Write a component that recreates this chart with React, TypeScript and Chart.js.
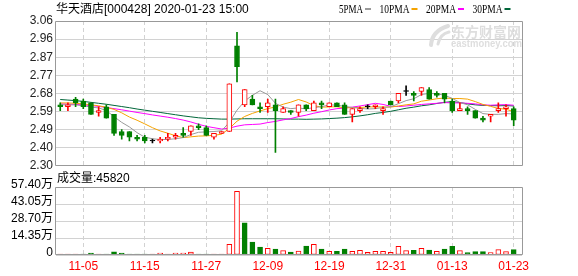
import React, { useEffect, useRef } from 'react';
import { Chart, registerables } from 'chart.js';

Chart.register(...registerables);

// ---------------- data ----------------
const stockTitle = '华天酒店[000428]';
const timeStamp = '2020-01-23 15:00';
const volumeLabel = '成交量';

const dates = [
  '10-31', '11-01', '11-04', '11-05', '11-06', '11-07', '11-08', '11-11', '11-12', '11-13',
  '11-14', '11-15', '11-18', '11-19', '11-20', '11-21', '11-22', '11-25', '11-26', '11-27',
  '11-28', '11-29', '12-02', '12-03', '12-04', '12-05', '12-06', '12-09', '12-10', '12-11',
  '12-12', '12-13', '12-16', '12-17', '12-18', '12-19', '12-20', '12-23', '12-24', '12-25',
  '12-26', '12-27', '12-30', '12-31', '01-02', '01-03', '01-06', '01-07', '01-08', '01-09',
  '01-10', '01-13', '01-14', '01-15', '01-16', '01-17', '01-20', '01-21', '01-22', '01-23',
];
const axisDates = ['11-05', '11-15', '11-27', '12-09', '12-19', '12-31', '01-13', '01-23'];

const opens = [
  2.62, 2.61, 2.65, 2.64, 2.63, 2.58, 2.61, 2.57, 2.48, 2.48,
  2.45, 2.45, 2.43, 2.43, 2.44, 2.45, 2.47, 2.48, 2.51, 2.50,
  2.45, 2.47, 2.48, 2.93, 2.62, 2.65, 2.61, 2.61, 2.62, 2.58,
  2.59, 2.58, 2.62, 2.59, 2.63, 2.61, 2.63, 2.62, 2.57, 2.59,
  2.61, 2.61, 2.59, 2.64, 2.64, 2.69, 2.68, 2.69, 2.70, 2.68,
  2.68, 2.64, 2.59, 2.60, 2.59, 2.55, 2.56, 2.59, 2.60, 2.60,
];
const highs = [
  2.63, 2.63, 2.66, 2.65, 2.63, 2.61, 2.62, 2.57, 2.49, 2.48,
  2.46, 2.46, 2.44, 2.45, 2.47, 2.47, 2.50, 2.51, 2.52, 2.51,
  2.47, 2.48, 2.73, 3.00, 2.70, 2.67, 2.63, 2.65, 2.65, 2.61,
  2.59, 2.62, 2.62, 2.64, 2.64, 2.63, 2.63, 2.63, 2.60, 2.61,
  2.62, 2.62, 2.61, 2.64, 2.68, 2.72, 2.69, 2.71, 2.71, 2.69,
  2.68, 2.65, 2.63, 2.61, 2.59, 2.56, 2.57, 2.63, 2.62, 2.61,
];
const lows = [
  2.59, 2.59, 2.61, 2.60, 2.57, 2.56, 2.55, 2.46, 2.44, 2.43,
  2.43, 2.42, 2.42, 2.42, 2.43, 2.44, 2.45, 2.46, 2.49, 2.46,
  2.44, 2.47, 2.48, 2.74, 2.61, 2.62, 2.58, 2.58, 2.37, 2.58,
  2.57, 2.56, 2.59, 2.59, 2.60, 2.61, 2.61, 2.57, 2.53, 2.58,
  2.60, 2.60, 2.57, 2.62, 2.63, 2.67, 2.64, 2.67, 2.65, 2.66,
  2.63, 2.58, 2.59, 2.57, 2.55, 2.53, 2.53, 2.58, 2.56, 2.51,
];
const closes = [
  2.61, 2.62, 2.63, 2.61, 2.57, 2.59, 2.55, 2.47, 2.46, 2.45,
  2.44, 2.43, 2.43, 2.44, 2.45, 2.46, 2.46, 2.51, 2.50, 2.46,
  2.47, 2.48, 2.73, 2.82, 2.70, 2.62, 2.60, 2.63, 2.59, 2.60,
  2.58, 2.62, 2.60, 2.63, 2.62, 2.63, 2.61, 2.57, 2.60, 2.60,
  2.61, 2.62, 2.60, 2.62, 2.68, 2.69, 2.67, 2.71, 2.65, 2.67,
  2.65, 2.59, 2.60, 2.59, 2.55, 2.54, 2.57, 2.60, 2.61, 2.54,
];
const volumes = [
  8000, 8000, 8000, 8000, 16000, 8000, 8000, 27000, 16000, 8000,
  8000, 8000, 8000, 16000, 8000, 16000, 16000, 25000, 8000, 8000,
  7000, 7000, 90000, 538000, 271000, 110000, 66000, 56000, 50000, 37000,
  25000, 33600, 75600, 89600, 50400, 30800, 30800, 50400, 30800, 39200,
  22400, 30800, 30800, 22400, 72800, 36400, 39200, 56000, 42000, 30800,
  50400, 72800, 36400, 19600, 28000, 28000, 19600, 44800, 28000, 45820,
];
// 1 = rising day (red volume bar), 0 = falling day (green volume bar)
const volumeUp = [
  1, 1, 1, 0, 0, 1, 0, 0, 0, 0,
  0, 0, 1, 1, 1, 1, 1, 1, 0, 0,
  1, 1, 1, 1, 0, 0, 0, 1, 0, 1,
  0, 1, 0, 1, 0, 1, 0, 0, 1, 1,
  1, 1, 1, 1, 1, 1, 0, 1, 0, 1,
  0, 0, 1, 0, 0, 0, 1, 1, 1, 0,
];

const ma5 = [
  2.620, 2.620, 2.620, 2.615, 2.608, 2.604, 2.590, 2.558, 2.528, 2.504,
  2.474, 2.450, 2.442, 2.438, 2.438, 2.442, 2.448, 2.464, 2.476, 2.478,
  2.480, 2.484, 2.528, 2.592, 2.640, 2.670, 2.694, 2.674, 2.628, 2.608,
  2.600, 2.604, 2.598, 2.606, 2.610, 2.620, 2.618, 2.612, 2.606, 2.602,
  2.598, 2.600, 2.606, 2.610, 2.626, 2.642, 2.652, 2.674, 2.680, 2.678,
  2.670, 2.654, 2.632, 2.620, 2.596, 2.574, 2.570, 2.570, 2.574, 2.572,
];
const ma10 = [
  2.630, 2.630, 2.628, 2.625, 2.620, 2.615, 2.607, 2.596, 2.578, 2.556,
  2.539, 2.520, 2.500, 2.483, 2.471, 2.458, 2.448, 2.452, 2.456, 2.457,
  2.460, 2.466, 2.496, 2.534, 2.559, 2.575, 2.588, 2.600, 2.609, 2.623,
  2.634, 2.648, 2.635, 2.616, 2.608, 2.609, 2.610, 2.604, 2.606, 2.606,
  2.609, 2.609, 2.609, 2.608, 2.614, 2.620, 2.625, 2.639, 2.645, 2.652,
  2.656, 2.653, 2.653, 2.650, 2.637, 2.622, 2.612, 2.601, 2.597, 2.584,
];
const ma20 = [
  2.625, 2.624, 2.622, 2.620, 2.616, 2.612, 2.606, 2.600, 2.594, 2.587,
  2.580, 2.574, 2.567, 2.561, 2.555, 2.548, 2.540, 2.530, 2.518, 2.507,
  2.500, 2.493, 2.498, 2.508, 2.515, 2.517, 2.519, 2.527, 2.533, 2.541,
  2.548, 2.558, 2.566, 2.576, 2.584, 2.593, 2.600, 2.603, 2.608, 2.614,
  2.621, 2.628, 2.622, 2.612, 2.611, 2.614, 2.618, 2.622, 2.625, 2.628,
  2.632, 2.630, 2.630, 2.628, 2.625, 2.620, 2.618, 2.620, 2.621, 2.618,
];
const ma30 = [
  2.648, 2.645, 2.642, 2.638, 2.633, 2.628, 2.623, 2.617, 2.611, 2.605,
  2.598, 2.592, 2.586, 2.580, 2.574, 2.568, 2.562, 2.557, 2.552, 2.549,
  2.547, 2.545, 2.545, 2.546, 2.547, 2.547, 2.547, 2.547, 2.547, 2.546,
  2.545, 2.545, 2.544, 2.545, 2.546, 2.548, 2.550, 2.553, 2.557, 2.562,
  2.568, 2.575, 2.580, 2.586, 2.594, 2.602, 2.608, 2.615, 2.620, 2.627,
  2.633, 2.637, 2.632, 2.625, 2.620, 2.617, 2.616, 2.615, 2.616, 2.614,
];
const maNames = ['5PMA', '10PMA', '20PMA', '30PMA'];

const priceTicks = [2.30, 2.395, 2.49, 2.585, 2.68, 2.775, 2.87, 2.965, 3.06];
const priceTickLabels = ['2.30', '2.40', '2.49', '2.59', '2.68', '2.77', '2.87', '2.96', '3.06'];
const volumeTicks = [0, 143500, 287000, 430500, 574000];
const volumeTickLabels = ['0', '14.35万', '28.70万', '43.05万', '57.40万'];

// ---------------- style ----------------
const SANS = '"Liberation Sans", "Noto Sans CJK SC", sans-serif';
const SERIF = '"Liberation Serif", "Noto Sans CJK SC", serif';
const RED = '#ff0000';
const GREEN = '#008000';
const GRID = '#d2d2d2';
const FRAME = '#999999';
const maColors = ['#9a9a9a', '#f5a300', '#ff00ff', '#00663a'];
const X_MIN = -0.55;
const X_MAX = 60.08;
const PAD_RIGHT = 56;
const AXIS_W = 56;

const kind = opens.map((o, i) => (closes[i] > o ? 'up' : closes[i] < o ? 'down' : 'flat'));
const strokeOf = (k: string) => (k === 'up' ? RED : k === 'down' ? GREEN : '#000000');
const fillOf = (k: string) => (k === 'up' ? '#ffffff' : k === 'down' ? GREEN : '#000000');
const axisTickIndex = axisDates.map((d) => dates.indexOf(d));

const framePlugin = {
  id: 'frame',
  afterDatasetsDraw(chart: any) {
    const { ctx, chartArea } = chart;
    const { left, top, right, bottom } = chartArea;
    ctx.save();
    ctx.strokeStyle = FRAME;
    ctx.lineWidth = 1;
    ctx.beginPath();
    ctx.rect(Math.round(left) - 0.5, Math.round(top) + 0.5, Math.round(right - left) + 1, Math.round(bottom - top) - 1);
    ctx.stroke();
    ctx.restore();
  },
};

const headerPlugin = {
  id: 'header',
  beforeDatasetsDraw(chart: any) {
    const ctx = chart.ctx;
    ctx.save();
    // watermark
    ctx.fillStyle = '#dedede';
    ctx.strokeStyle = '#dedede';
    ctx.lineCap = 'round';
    ctx.lineWidth = 4;
    ctx.beginPath();
    ctx.moveTo(431, 45);
    ctx.quadraticCurveTo(432, 31, 448, 26);
    ctx.stroke();
    ctx.lineWidth = 3;
    ctx.beginPath();
    ctx.moveTo(438, 44);
    ctx.quadraticCurveTo(440, 34, 449, 32);
    ctx.stroke();
    ctx.font = `bold 14px "Noto Sans CJK SC", sans-serif`;
    ctx.textBaseline = 'alphabetic';
    ctx.fillText('东方财富网', 451, 37, 71);
    ctx.font = `bold 10px ${SANS}`;
    ctx.fillText('eastmoney.com', 451, 47, 71);
    ctx.restore();
  },
  afterDraw(chart: any) {
    const ctx = chart.ctx;
    ctx.save();
    ctx.textBaseline = 'alphabetic';
    ctx.fillStyle = '#000';
    ctx.font = `12px ${SANS}`;
    ctx.fillText(`${stockTitle} ${timeStamp}`, 56, 13);
    ctx.font = `13px ${SERIF}`;
    let x = 339;
    maNames.forEach((name, k) => {
      const w = name.length * 6;
      ctx.fillStyle = '#000';
      ctx.fillText(name, x, 13, w);
      x += w + 2;
      ctx.fillStyle = maColors[k];
      ctx.fillRect(x, 8, 6, 2);
      x += 6 + 8.5;
    });
    ctx.restore();
  },
};

const volumeHeaderPlugin = {
  id: 'volHeader',
  afterDraw(chart: any) {
    const ctx = chart.ctx;
    ctx.save();
    ctx.fillStyle = '#000';
    ctx.font = `12px ${SANS}`;
    ctx.textBaseline = 'alphabetic';
    ctx.fillText(`${volumeLabel}:${volumes[volumes.length - 1]}`, 57, 14);
    ctx.restore();
  },
};

function xScale(showLabels: boolean) {
  return {
    type: 'linear',
    min: X_MIN,
    max: X_MAX,
    offset: false,
    afterBuildTicks: (axis: any) => {
      axis.ticks = axisTickIndex.map((v) => ({ value: v }));
    },
    ticks: {
      display: showLabels,
      autoSkip: false,
      maxRotation: 0,
      padding: 4,
      color: RED,
      font: { family: SANS, size: 12 },
      callback: (_v: any, i: number) => axisDates[i],
    },
    grid: { color: GRID, drawTicks: false, offset: false },
    border: { display: false, dash: [4, 3] },
    afterFit: (s: any) => {
      s.height = showLabels ? 21 : 0;
    },
  };
}

export default function App() {
  const priceRef = useRef<HTMLCanvasElement>(null);
  const volRef = useRef<HTMLCanvasElement>(null);

  useEffect(() => {
    const maSeries = [ma5, ma10, ma20, ma30];
    const priceChart = new Chart(priceRef.current as HTMLCanvasElement, {
      type: 'bar',
      data: {
        datasets: [
          ...maSeries.map((s, k) => ({
            type: 'line' as const,
            label: maNames[k],
            data: s.map((v, i) => ({ x: i, y: v })),
            borderColor: maColors[k],
            borderWidth: 1,
            pointRadius: 0,
            tension: 0,
            order: 3,
          })),
          {
            type: 'bar' as const,
            label: 'wick',
            data: dates.map((_d, i) => ({ x: i, y: [lows[i], highs[i]] })),
            backgroundColor: kind.map(strokeOf),
            barThickness: 1,
            grouped: false,
            order: 2,
          },
          {
            type: 'bar' as const,
            label: 'body',
            data: dates.map((_d, i) => ({ x: i, y: [Math.min(opens[i], closes[i]), Math.max(opens[i], closes[i])] })),
            backgroundColor: kind.map(fillOf),
            borderColor: kind.map(strokeOf),
            borderWidth: 1,
            borderSkipped: false,
            barThickness: 5,
            minBarLength: 1,
            grouped: false,
            order: 1,
          },
        ] as any,
      },
      options: {
        responsive: false,
        animation: false,
        events: [],
        layout: { padding: { left: 0, right: PAD_RIGHT, top: 21, bottom: 10 } },
        plugins: { legend: { display: false }, tooltip: { enabled: false } },
        scales: {
          x: xScale(false) as any,
          y: {
            type: 'linear',
            min: priceTicks[0],
            max: priceTicks[priceTicks.length - 1],
            afterBuildTicks: (axis: any) => {
              axis.ticks = priceTicks.map((v) => ({ value: v }));
            },
            ticks: {
              padding: 3,
              autoSkip: false,
              color: '#222',
              font: { family: SANS, size: 12 },
              callback: (_v: any, i: number) => priceTickLabels[i],
            },
            grid: { color: GRID, drawTicks: false },
            border: { display: false },
            afterFit: (s: any) => {
              s.width = AXIS_W;
            },
          } as any,
        },
      },
      plugins: [framePlugin, headerPlugin],
    });

    const volChart = new Chart(volRef.current as HTMLCanvasElement, {
      type: 'bar',
      data: {
        datasets: [
          {
            label: volumeLabel,
            data: volumes.map((v, i) => ({ x: i, y: v })),
            backgroundColor: volumeUp.map((u) => (u ? '#ffffff' : GREEN)),
            borderColor: volumeUp.map((u) => (u ? RED : GREEN)),
            borderWidth: 1,
            borderSkipped: false,
            barThickness: 5,
            grouped: false,
          },
        ] as any,
      },
      options: {
        responsive: false,
        animation: false,
        events: [],
        layout: { padding: { left: 0, right: PAD_RIGHT, top: 19, bottom: 0 } },
        plugins: { legend: { display: false }, tooltip: { enabled: false } },
        scales: {
          x: xScale(true) as any,
          y: {
            type: 'linear',
            min: volumeTicks[0],
            max: volumeTicks[volumeTicks.length - 1],
            afterBuildTicks: (axis: any) => {
              axis.ticks = volumeTicks.map((v) => ({ value: v }));
            },
            ticks: {
              padding: 3,
              autoSkip: false,
              labelOffset: -2,
              color: '#000',
              font: { family: SANS, size: 12 },
              callback: (_v: any, i: number) => volumeTickLabels[i],
            },
            grid: { color: GRID, drawTicks: false },
            border: { display: false },
            afterFit: (s: any) => {
              s.width = AXIS_W;
            },
          } as any,
        },
      },
      plugins: [framePlugin, volumeHeaderPlugin],
    });

    return () => {
      priceChart.destroy();
      volChart.destroy();
    };
  }, []);

  return (
    <div style={{ position: 'fixed', left: 0, top: 0, width: 578, height: 276, background: '#ffffff' }}>
      <canvas ref={priceRef} width={578} height={176} style={{ position: 'absolute', left: 0, top: 0 }} />
      <canvas ref={volRef} width={578} height={108} style={{ position: 'absolute', left: 0, top: 168 }} />
    </div>
  );
}
